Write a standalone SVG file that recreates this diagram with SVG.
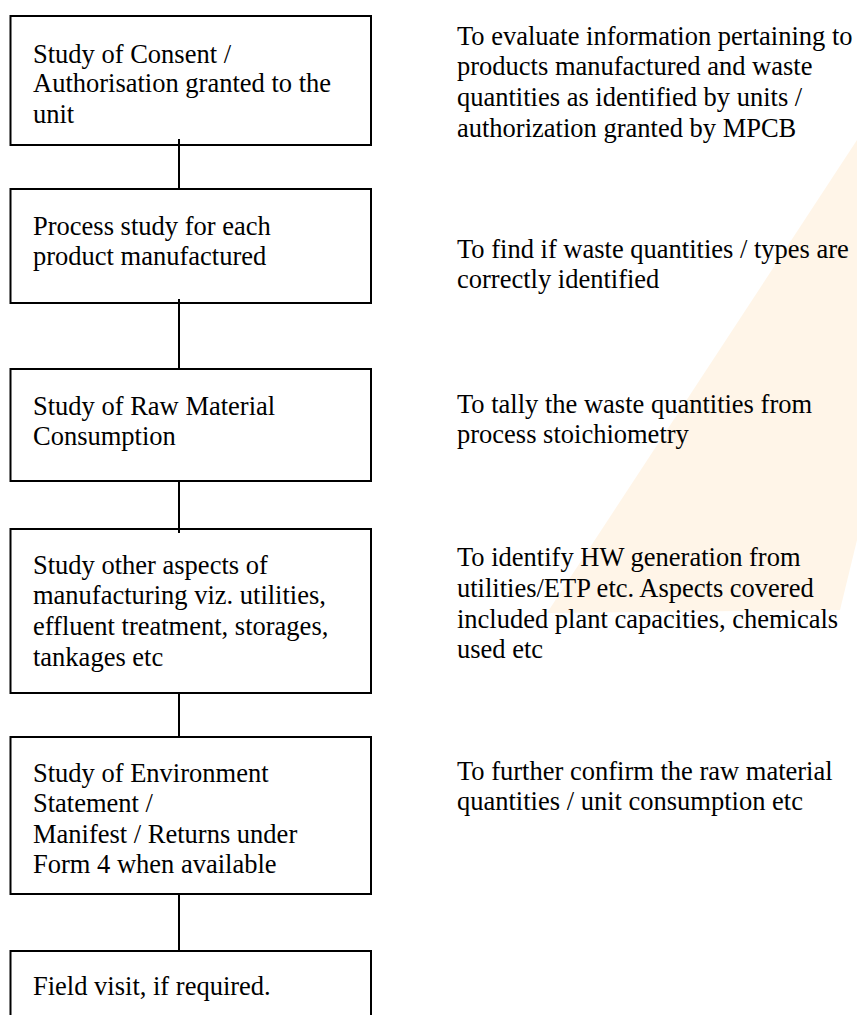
<svg xmlns="http://www.w3.org/2000/svg" width="857" height="1015" viewBox="0 0 857 1015">
<style>
  .box { fill: #ffffff; stroke: #000000; stroke-width: 2; }
  .conn { stroke: #000000; stroke-width: 2; fill: none; }
  text { font-family: "Liberation Serif", "Times New Roman", serif; font-size: 26.5px; fill: #000000; }
</style>
<rect x="0" y="0" width="857" height="1015" fill="#ffffff"/>
<polygon id="watermark" points="547,613 857,140 857,540 840,610" fill="#fff5e8"/>
<g id="connectors">
  <line class="conn" x1="179" y1="139" x2="179" y2="189"/>
  <line class="conn" x1="179" y1="299" x2="179" y2="369"/>
  <line class="conn" x1="179" y1="481" x2="179" y2="533"/>
  <line class="conn" x1="179" y1="693" x2="179" y2="737"/>
  <line class="conn" x1="179" y1="894" x2="179" y2="951"/>
</g>
<g id="node1">
  <rect class="box" x="10.5" y="16" width="360.5" height="129" fill-opacity="0"/>
  <text x="33" y="62.5">Study of Consent /</text>
  <text x="33" y="92">Authorisation granted to the</text>
  <text x="33" y="122.5">unit</text>
</g>
<g id="node2">
  <rect class="box" x="10.5" y="189" width="360.5" height="114" fill-opacity="0"/>
  <text x="33" y="235">Process study for each</text>
  <text x="33" y="265">product manufactured</text>
</g>
<g id="node3">
  <rect class="box" x="10.5" y="369" width="360.5" height="112" fill-opacity="0"/>
  <text x="33" y="415">Study of Raw Material</text>
  <text x="33" y="445">Consumption</text>
</g>
<g id="node4">
  <rect class="box" x="10.5" y="529" width="360.5" height="164" fill-opacity="0"/>
  <text x="33" y="574">Study other aspects of</text>
  <text x="33" y="604">manufacturing viz. utilities,</text>
  <text x="33" y="635">effluent treatment, storages,</text>
  <text x="33" y="665.5">tankages etc</text>
</g>
<g id="node5">
  <rect class="box" x="10.5" y="737" width="360.5" height="157" fill-opacity="0"/>
  <text x="33" y="782">Study of Environment</text>
  <text x="33" y="812">Statement /</text>
  <text x="33" y="843">Manifest / Returns under</text>
  <text x="33" y="873">Form 4 when available</text>
</g>
<g id="node6">
  <rect class="box" x="10.5" y="951" width="360.5" height="80" fill-opacity="0"/>
  <text x="33" y="995">Field visit, if required.</text>
</g>
<g id="notes">
  <text x="457" y="45">To evaluate information pertaining to</text>
  <text x="457" y="75">products manufactured and waste</text>
  <text x="457" y="106">quantities as identified by units /</text>
  <text x="457" y="137">authorization granted by MPCB</text>
  <text x="457" y="258">To find if waste quantities / types are</text>
  <text x="457" y="288">correctly identified</text>
  <text x="457" y="413">To tally the waste quantities from</text>
  <text x="457" y="443">process stoichiometry</text>
  <text x="457" y="566">To identify HW generation from</text>
  <text x="457" y="597">utilities/ETP etc. Aspects covered</text>
  <text x="457" y="628">included plant capacities, chemicals</text>
  <text x="457" y="658">used etc</text>
  <text x="457" y="780">To further confirm the raw material</text>
  <text x="457" y="810">quantities / unit consumption etc</text>
</g>
</svg>
